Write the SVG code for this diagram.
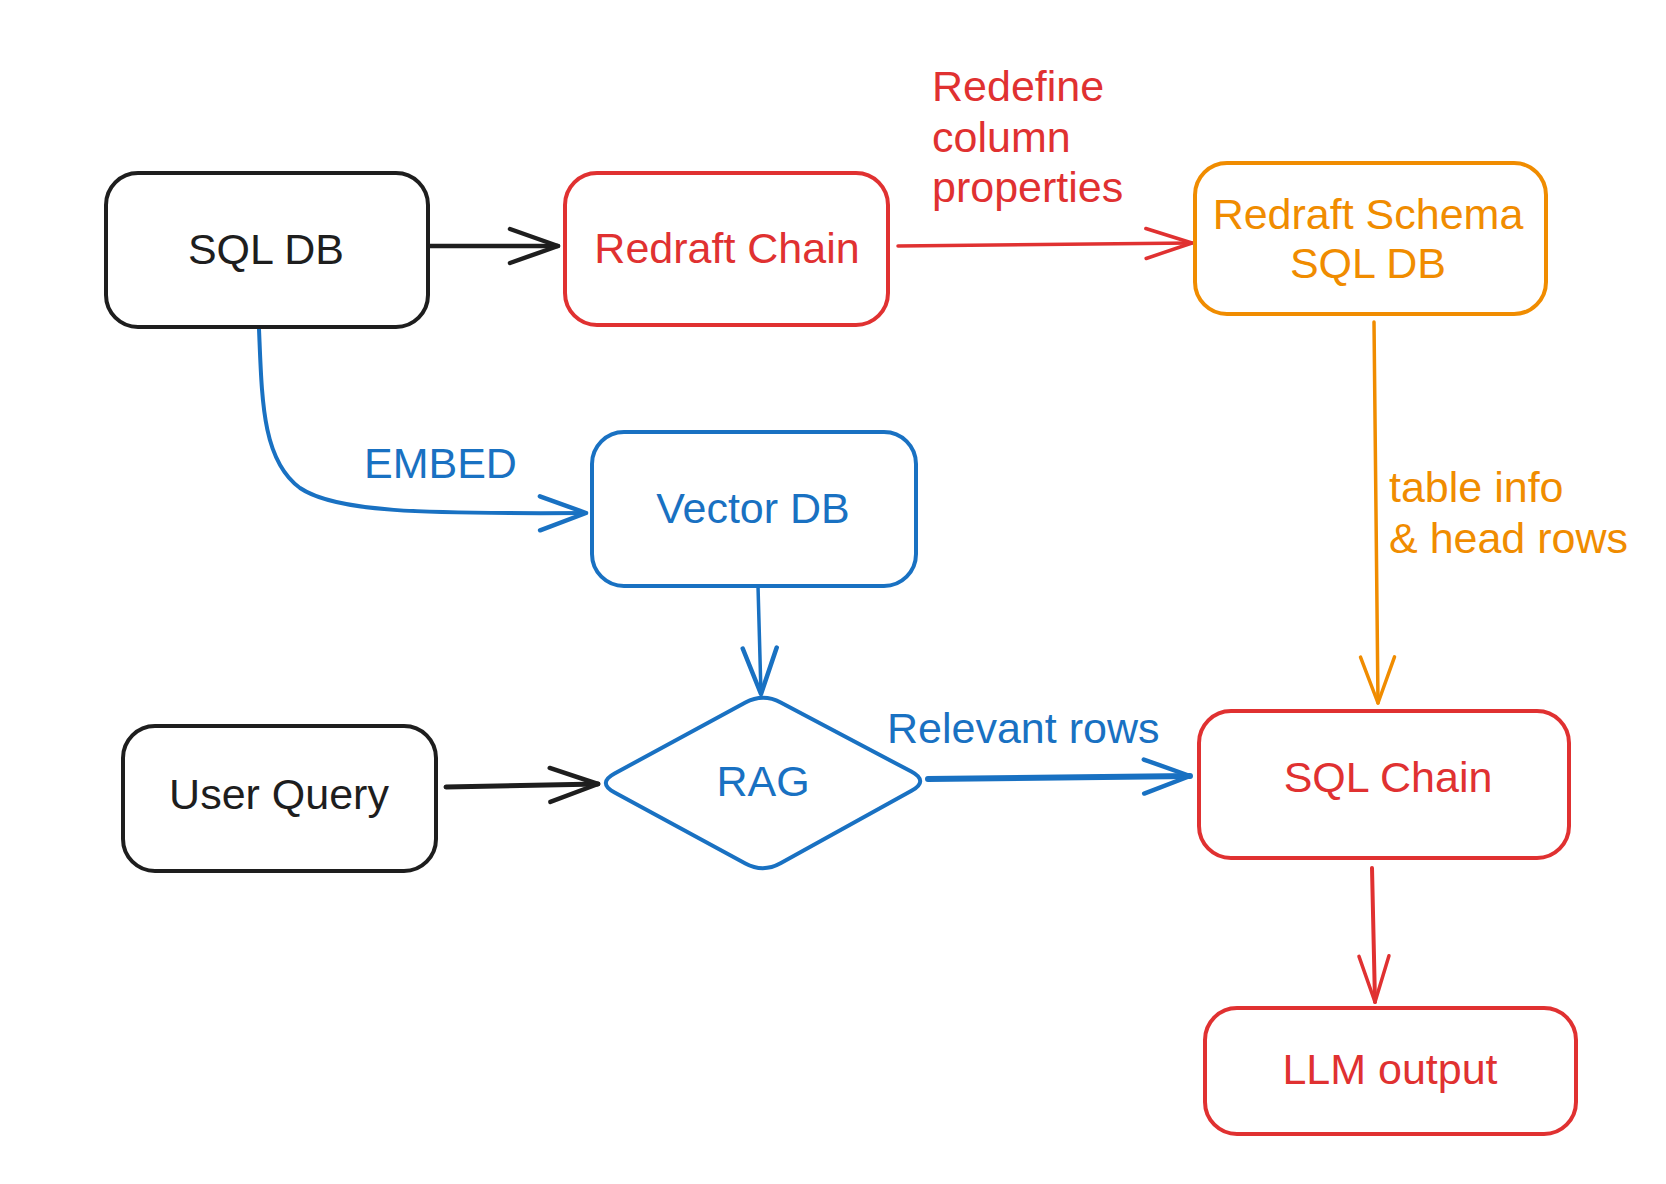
<svg xmlns="http://www.w3.org/2000/svg" width="1666" height="1184" viewBox="0 0 1666 1184">
<style>
text{font-family:"Liberation Sans",Arial,sans-serif;font-size:43px}
.c{text-anchor:middle}
.box{fill:#fff;stroke-width:4;stroke-linejoin:round}
.k{stroke:#1e1e1e}.r{stroke:#e03131}.o{stroke:#f08c00}.b{stroke:#1971c2}
.tk{fill:#1e1e1e}.tr{fill:#e03131}.to{fill:#f08c00}.tb{fill:#1971c2}
.ln{fill:none;stroke-linecap:round;stroke-linejoin:round}
</style>
<defs>
<marker id="ak" viewBox="-54 -22 60 44" refX="0" refY="0" markerWidth="60" markerHeight="44" markerUnits="userSpaceOnUse" orient="auto"><path d="M-48,-17 L0,0 L-48,17" fill="none" stroke="#1e1e1e" stroke-width="4.5" stroke-linecap="round" stroke-linejoin="round"/></marker>
<marker id="ar" viewBox="-54 -22 60 44" refX="0" refY="0" markerWidth="60" markerHeight="44" markerUnits="userSpaceOnUse" orient="auto"><path d="M-46,-15 L0,0 L-46,15" fill="none" stroke="#e03131" stroke-width="3.5" stroke-linecap="round" stroke-linejoin="round"/></marker>
<marker id="ao" viewBox="-54 -22 60 44" refX="0" refY="0" markerWidth="60" markerHeight="44" markerUnits="userSpaceOnUse" orient="auto"><path d="M-46,-17 L0,0 L-46,17" fill="none" stroke="#f08c00" stroke-width="3.5" stroke-linecap="round" stroke-linejoin="round"/></marker>
<marker id="ab" viewBox="-54 -22 60 44" refX="0" refY="0" markerWidth="60" markerHeight="44" markerUnits="userSpaceOnUse" orient="auto"><path d="M-46,-17 L0,0 L-46,17" fill="none" stroke="#1971c2" stroke-width="4.5" stroke-linecap="round" stroke-linejoin="round"/></marker>
</defs>
<rect width="1666" height="1184" fill="#fff"/>
<g id="connectors">
<path class="ln k" d="M430,246 L558,246" stroke-width="4.5" marker-end="url(#ak)"/>
<path class="ln r" d="M898,246 L1192,243" stroke-width="3.5" marker-end="url(#ar)"/>
<path class="ln b" d="M259,329 C262,400 262,460 300,488 C335,512 420,514 586,513" stroke-width="4" marker-end="url(#ab)"/>
<path class="ln b" d="M758,586 L761,694" stroke-width="3.5" marker-end="url(#ab)"/>
<path class="ln k" d="M446,787 L598,784" stroke-width="5" marker-end="url(#ak)"/>
<path class="ln b" d="M928,779 L1190,776" stroke-width="6" marker-end="url(#ab)"/>
<path class="ln o" d="M1374,322 L1378,703" stroke-width="3.5" marker-end="url(#ao)"/>
<path class="ln r" d="M1372,868 L1375,1002" stroke-width="4" marker-end="url(#ar)"/>
<text class="tr"><tspan x="932" y="101">Redefine</tspan><tspan x="932" y="152">column</tspan><tspan x="932" y="202">properties</tspan></text>
<text class="tb" x="364" y="478">EMBED</text>
<text class="tb" x="887" y="743">Relevant rows</text>
<text class="to"><tspan x="1389" y="502">table info</tspan><tspan x="1389" y="553">&amp; head rows</tspan></text>
</g>
<g id="sql-db"><rect class="box k" x="106" y="173" width="322" height="154" rx="32"/><text class="c tk" x="266" y="264">SQL DB</text></g>
<g id="redraft-chain"><rect class="box r" x="565" y="173" width="323" height="152" rx="32"/><text class="c tr" x="727" y="263">Redraft Chain</text></g>
<g id="redraft-schema"><rect class="box o" x="1195" y="163" width="351" height="151" rx="32"/><text class="c to"><tspan x="1368" y="229">Redraft Schema</tspan><tspan x="1368" y="278">SQL DB</tspan></text></g>
<g id="vector-db"><rect class="box b" x="592" y="432" width="324" height="154" rx="32"/><text class="c tb" x="753" y="523">Vector DB</text></g>
<g id="rag"><path class="box b" d="M614.6,773.5 L745.4,702.5 Q763,693 780.7,702.4 L911.3,771.6 Q929,781 911.5,790.7 L780.5,863.3 Q763,873 745.4,863.5 L614.6,792.5 Q597,783 614.6,773.5 Z"/><text class="c tb" x="763" y="796">RAG</text></g>
<g id="user-query"><rect class="box k" x="123" y="726" width="313" height="145" rx="32"/><text class="c tk" x="279" y="809">User Query</text></g>
<g id="sql-chain"><rect class="box r" x="1199" y="711" width="370" height="147" rx="32"/><text class="c tr" x="1388" y="792">SQL Chain</text></g>
<g id="llm-output"><rect class="box r" x="1205" y="1008" width="371" height="126" rx="32"/><text class="c tr" x="1390" y="1084">LLM output</text></g>
</svg>
